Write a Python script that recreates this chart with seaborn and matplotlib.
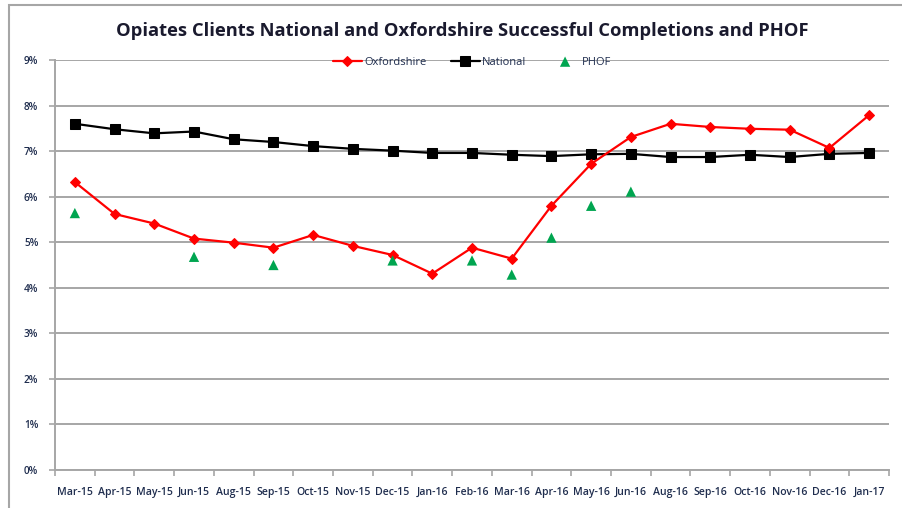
import numpy as np
import pandas as pd
import matplotlib
matplotlib.use("Agg")
import matplotlib.pyplot as plt
import seaborn as sns
from matplotlib.ticker import FixedLocator, PercentFormatter
from matplotlib.patches import Rectangle

months = ["Mar-15", "Apr-15", "May-15", "Jun-15", "Aug-15", "Sep-15", "Oct-15",
          "Nov-15", "Dec-15", "Jan-16", "Feb-16", "Mar-16", "Apr-16", "May-16",
          "Jun-16", "Aug-16", "Sep-16", "Oct-16", "Nov-16", "Dec-16", "Jan-17"]
oxfordshire = [6.32, 5.62, 5.41, 5.08, 4.99, 4.88, 5.16, 4.92, 4.72, 4.31, 4.88,
               4.64, 5.80, 6.72, 7.31, 7.60, 7.53, 7.49, 7.47, 7.07, 7.79]
national = [7.60, 7.48, 7.39, 7.43, 7.26, 7.20, 7.11, 7.05, 7.01, 6.96, 6.96,
            6.92, 6.89, 6.93, 6.94, 6.87, 6.87, 6.92, 6.87, 6.94, 6.96]
phof = [5.64, np.nan, np.nan, 4.68, np.nan, 4.50, np.nan, np.nan, 4.60, np.nan, 4.60,
        4.29, 5.10, 5.80, 6.11, np.nan, np.nan, np.nan, np.nan, np.nan, np.nan]
y_ticks = [0, 1, 2, 3, 4, 5, 6, 7, 8, 9]
title = "Opiates Clients National and Oxfordshire Successful Completions and PHOF"

df = pd.DataFrame({"idx": np.arange(len(months)), "month": months,
                   "Oxfordshire": oxfordshire, "National": national, "PHOF": phof})

sns.set_style("white")
plt.rcParams["font.family"] = ["Open Sans", "DejaVu Sans"]

text_col = "#1F2D4E"
grid_col = "#A6A6A6"

fig = plt.figure(figsize=(9.02, 5.08), dpi=100)
fig.patches.append(Rectangle((9 / 902, -0.1), 1.2, 1 - 5 / 508 + 0.1,
                             transform=fig.transFigure, fill=False,
                             edgecolor="#A6A6A6", linewidth=1.5, zorder=0))
ax = fig.add_axes([55 / 902, 1 - 470 / 508, (889 - 55) / 902, (470 - 60) / 508])

sns.lineplot(data=df, x="idx", y="Oxfordshire", ax=ax, color="#FF0000",
             linewidth=1.6, marker="D", markersize=5, markeredgecolor="#FF0000",
             label="Oxfordshire", sort=False, zorder=4)
sns.lineplot(data=df, x="idx", y="National", ax=ax, color="#000000",
             linewidth=1.6, marker="s", markersize=6.5, markeredgecolor="#000000",
             label="National", sort=False, zorder=3)
sns.scatterplot(data=df, x="idx", y="PHOF", ax=ax, color="#00A550",
                marker="^", s=55, edgecolor="none", label="PHOF", zorder=5)

ax.set_xlim(-0.5, len(months) - 0.5)
ax.set_ylim(0, 9)
ax.set_xlabel("")
ax.set_ylabel("")

ax.xaxis.set_major_locator(FixedLocator(df["idx"].tolist()))
ax.set_xticklabels(months)
ax.xaxis.set_minor_locator(FixedLocator(np.arange(-0.5, len(months), 1.0)))
ax.tick_params(axis="x", which="major", length=0, pad=12, labelsize=7.6,
               labelcolor=text_col)
ax.tick_params(axis="x", which="minor", length=4, width=1.2, color=grid_col,
               direction="out", bottom=True)

ax.yaxis.set_major_locator(FixedLocator(y_ticks))
ax.yaxis.set_major_formatter(PercentFormatter(decimals=0))
ax.tick_params(axis="y", which="major", length=4, width=1.2, color=grid_col,
               direction="out", left=True, pad=8, labelsize=7.2,
               labelcolor=text_col)
for lbl in ax.get_yticklabels() + ax.get_xticklabels():
    lbl.set_fontweight("semibold")

ax.grid(axis="y", color=grid_col, linewidth=1.4)
ax.set_axisbelow(True)
for s in ["top", "right"]:
    ax.spines[s].set_visible(False)
for s in ["left", "bottom"]:
    ax.spines[s].set_color(grid_col)
    ax.spines[s].set_linewidth(1.4)

leg = ax.legend(loc="center", bbox_to_anchor=(0.5, 0.995), ncol=3, frameon=False,
                fontsize=8, handlelength=2.6, handletextpad=0.2,
                columnspacing=2.2, borderaxespad=0)
for t in leg.get_texts():
    t.set_color(text_col)

fig.text(0.512, 1 - 31 / 508, title, ha="center", va="center",
         fontsize=13.2, fontweight="bold", color="#1A1A2E")

fig.savefig("out.png", dpi=100)
